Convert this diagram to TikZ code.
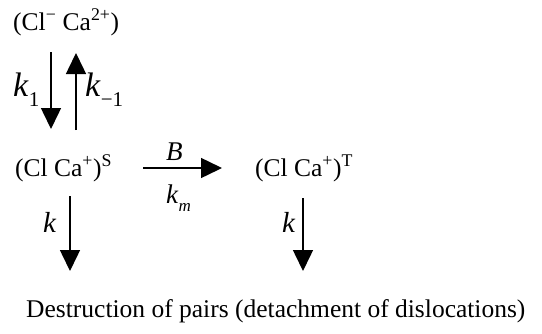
\documentclass[tikz,border=0pt]{standalone}
\usepackage{fontspec}
\setmainfont{Liberation Serif}
\usetikzlibrary{arrows.meta}
\newcommand{\fs}[1]{\fontsize{#1}{#1}\selectfont}
\newcommand{\lsub}[2]{\raisebox{-0.3em}{\fs{#1}#2}}
\begin{document}
\begin{tikzpicture}[x=1pt,y=1pt,
  chem/.style={anchor=base west, inner sep=0pt, font=\fs{25.5pt}},
  lbl/.style={anchor=base west, inner sep=0pt},
  arr/.style={line width=1.5pt, -{Triangle[length=21pt,width=20pt]}}]
\useasboundingbox (0,0) rectangle (542,-333);
% species
\node[chem] (top) at (13,-30) {(Cl\textsuperscript{−} Ca\textsuperscript{2+})};
\node[chem] (S) at (15,-176) {(Cl Ca\textsuperscript{+})\textsuperscript{S}};
\node[chem] (T) at (255,-176) {(Cl Ca\textsuperscript{+})\textsuperscript{T}};
\node[chem] (D) at (26,-317) {Destruction of pairs (detachment of dislocations)};
% labels
\node[lbl, font=\fs{34pt}] (k1) at (13,-96) {\textit{k}\lsub{21pt}{1}};
\node[lbl, font=\fs{34pt}] (km1) at (85,-96) {\textit{k}\lsub{21pt}{−1}};
\node[lbl, font=\fs{27pt}] (B) at (166,-160) {\textit{B}};
\node[lbl, font=\fs{27pt}] (km) at (166,-203) {\textit{k}\lsub{17pt}{\textit{m}}};
\node[lbl, font=\fs{29pt}] (kl) at (43,-232) {\textit{k}};
\node[lbl, font=\fs{29pt}] (kr) at (282,-232) {\textit{k}};
% connector ends
\coordinate (a1) at (51,-52);
\coordinate (a2) at (51,-129);
\coordinate (b1) at (76,-130);
\coordinate (b2) at (76,-53);
\coordinate (h1) at (143,-168);
\coordinate (h2) at (222,-168);
\coordinate (l1) at (70,-196);
\coordinate (l2) at (70,-271);
\coordinate (r1) at (303,-198);
\coordinate (r2) at (303,-271);
\draw[arr] (a1) -- (a2);
\draw[arr] (b1) -- (b2);
\draw[arr] (h1) -- (h2);
\draw[arr] (l1) -- (l2);
\draw[arr] (r1) -- (r2);
\end{tikzpicture}
\end{document}
